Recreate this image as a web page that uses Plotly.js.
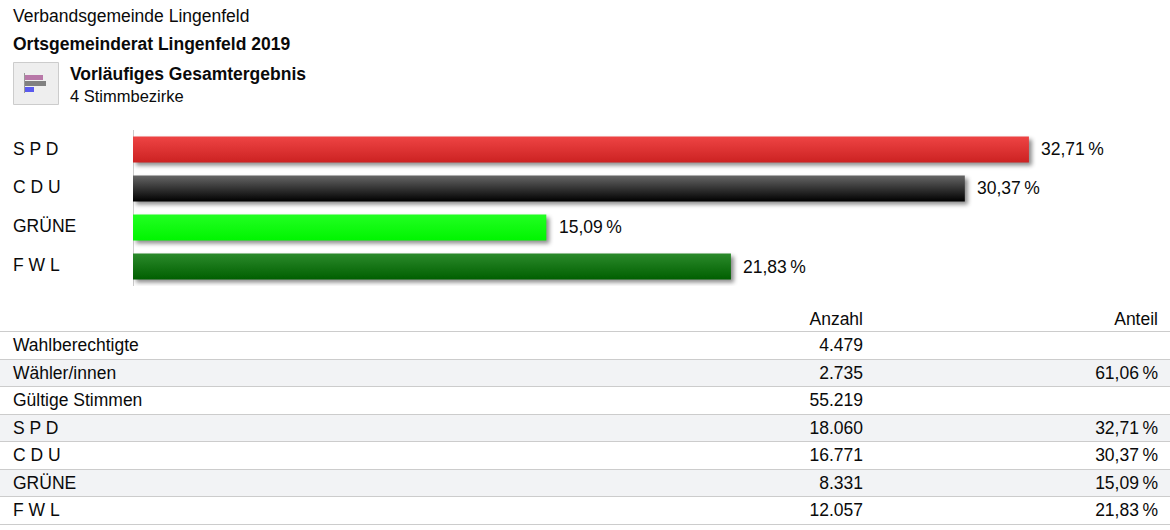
<!DOCTYPE html>
<html><head><meta charset="utf-8">
<script src="https://cdn.plot.ly/plotly-3.0.1.min.js"></script>
<style>html,body{margin:0;padding:0;background:#fff;overflow:hidden}#c{width:1170px;height:530px}</style>
</head><body><div id="c"></div>
<script>
const parties = ['S P D','C D U','GRÜNE','F W L'];
const shares = [32.71,30.37,15.09,21.83];
const shareLabels = ['32,71\u2009%','30,37\u2009%','15,09\u2009%','21,83\u2009%'];
const barColors = ['#dd3333','#333333','#11ee11','#116611'];
const gradTop = ['#ee4444','#666666','#22ff22','#2b8a2b'];
const gradBottom = ['#cc2222','#000000','#00f500','#005f00'];
const rowLabels = ['Wahlberechtigte','Wähler/innen','Gültige Stimmen','S P D','C D U','GRÜNE','F W L'];
const rowCounts = ['4.479','2.735','55.219','18.060','16.771','8.331','12.057'];
const rowShares = ['','61,06\u2009%','','32,71\u2009%','30,37\u2009%','15,09\u2009%','21,83\u2009%'];
const ruleY = [331.5,359.5,386.5,414.5,441.5,469.5,496.5,524.5];
const W=1170,H=530, FONT='Liberation Sans, Arial, sans-serif', INK='#0a0a0a';
const px=x=>x/W, py=y=>1-y/H;
const txt=(x,y,text,size,bold)=>({xref:'paper',yref:'paper',x:px(x),y:py(y),xanchor:'left',yanchor:'middle',showarrow:false,
  text:bold?'<b>'+text+'</b>':text,font:{family:FONT,size:size,color:INK},borderpad:0,borderwidth:0});
const rect=(x0,y0,x1,y1,fill,line,layer)=>({type:'rect',xref:'paper',yref:'paper',x0:px(x0),x1:px(x1),y0:py(y0),y1:py(y1),
  fillcolor:fill,line:{width:line?1:0,color:line||'rgba(0,0,0,0)'},layer:layer||'below'});

const annotations=[
  txt(13,16,'Verbandsgemeinde Lingenfeld',17.5),
  txt(13,44,'Ortsgemeinderat Lingenfeld 2019',17.5,true),
  txt(70,74,'Vorläufiges Gesamtergebnis',17.5,true),
  txt(70,96,'4 Stimmbezirke',16.5),
];
parties.forEach((p,i)=>{
  annotations.push(txt(13,148.5+i*38.7,p,17.5));
  annotations.push({xref:'x',yref:'y',x:shares[i],y:p,xanchor:'left',yanchor:'middle',xshift:11.5,yshift:0,showarrow:false,
    text:shareLabels[i],font:{family:FONT,size:17.5,color:INK},borderpad:0});
});
const shapes=[
  rect(13.5,62.5,58.5,104.5,'#eeeeee','#cccccc'),
  rect(24,75,43,80,'#b878a8'),
  rect(24,81,46,86,'#808080'),
  rect(24,87,34,92,'#5a5aee'),
  rect(24,73,25,93,'#999999'),
  rect(0,360,W,386,'#f2f3f5'),
  rect(0,415,W,441,'#f2f3f5'),
  rect(0,470,W,496,'#f2f3f5'),
  {type:'line',xref:'paper',yref:'paper',x0:px(133.5),x1:px(133.5),y0:py(130),y1:py(286),line:{color:'#cccccc',width:1},layer:'below'},
];
ruleY.forEach(y=>shapes.push({type:'line',xref:'paper',yref:'paper',x0:0,x1:1,y0:py(y),y1:py(y),line:{color:'#cccccc',width:1},layer:'below'}));

const bars={type:'bar',orientation:'h',x:shares,y:parties,width:0.667,marker:{color:barColors,line:{width:0}},hoverinfo:'skip',cliponaxis:false};
const table={type:'table',domain:{x:[5/W,1166/W],y:[py(525),py(304)]},columnwidth:[500,366,295],
  header:{values:['','Anzahl','Anteil'],align:['left','right','right'],height:26,fill:{color:'rgba(0,0,0,0)'},line:{width:0,color:'rgba(0,0,0,0)'},font:{family:FONT,size:17.5,color:INK}},
  cells:{values:[rowLabels,rowCounts,rowShares],align:['left','right','right'],height:27.5,fill:{color:'rgba(0,0,0,0)'},line:{width:0,color:'rgba(0,0,0,0)'},font:{family:FONT,size:17.5,color:INK}}};
const layout={width:W,height:H,margin:{l:0,r:0,t:0,b:0},paper_bgcolor:'#fff',plot_bgcolor:'rgba(0,0,0,0)',showlegend:false,
  xaxis:{domain:[133/W,1],range:[0,1037/27.39],visible:false,fixedrange:true},
  yaxis:{domain:[py(286),py(130)],type:'category',categoryorder:'array',categoryarray:parties,autorange:'reversed',showline:false,showticklabels:false,ticks:'',showgrid:false,zeroline:false,fixedrange:true},
  annotations,shapes};
Plotly.newPlot('c',[bars,table],layout,{displayModeBar:false,staticPlot:true}).then(gd=>{
  const svg=gd.querySelector('.main-svg'), NS='http://www.w3.org/2000/svg';
  let defs=svg.querySelector('defs');
  gd.querySelectorAll('.barlayer .point path').forEach((path,i)=>{
    const g=document.createElementNS(NS,'linearGradient');
    g.setAttribute('id','barGrad'+i);g.setAttribute('x1','0');g.setAttribute('x2','0');g.setAttribute('y1','0');g.setAttribute('y2','1');
    [[0,gradTop[i]],[1,gradBottom[i]]].forEach(([o,c])=>{const s=document.createElementNS(NS,'stop');s.setAttribute('offset',o);s.setAttribute('stop-color',c);g.appendChild(s);});
    defs.appendChild(g);
    path.style.setProperty('fill','url(#barGrad'+i+')');
    path.style.setProperty('filter','drop-shadow(3px 3px 2px rgba(0,0,0,.45))');
  });
});
</script></body></html>
